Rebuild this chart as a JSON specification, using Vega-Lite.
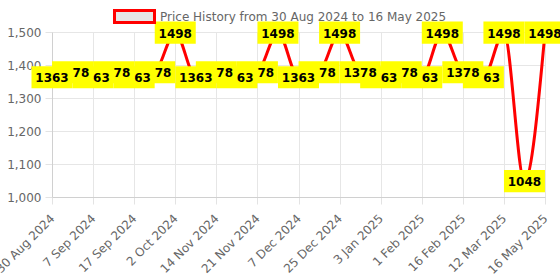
{
  "$schema": "https://vega.github.io/schema/vega-lite/v6.json",
  "width": 493,
  "height": 165,
  "autosize": {"type": "none"},
  "padding": {"left": 52, "top": 32, "right": 15, "bottom": 83},
  "config": {"view": {"stroke": null}, "font": "DejaVu Sans"},
  "data": {
    "values": [
      {"date": "30 Aug 2024", "price": 1363},
      {"date": "3 Sep 2024", "price": 1378},
      {"date": "7 Sep 2024", "price": 1363},
      {"date": "12 Sep 2024", "price": 1378},
      {"date": "17 Sep 2024", "price": 1363},
      {"date": "25 Sep 2024", "price": 1378},
      {"date": "2 Oct 2024", "price": 1498},
      {"date": "23 Oct 2024", "price": 1363},
      {"date": "14 Nov 2024", "price": 1378},
      {"date": "18 Nov 2024", "price": 1363},
      {"date": "21 Nov 2024", "price": 1378},
      {"date": "29 Nov 2024", "price": 1498},
      {"date": "7 Dec 2024", "price": 1363},
      {"date": "16 Dec 2024", "price": 1378},
      {"date": "25 Dec 2024", "price": 1498},
      {"date": "29 Dec 2024", "price": 1378},
      {"date": "3 Jan 2025", "price": 1363},
      {"date": "17 Jan 2025", "price": 1378},
      {"date": "1 Feb 2025", "price": 1363},
      {"date": "9 Feb 2025", "price": 1498},
      {"date": "16 Feb 2025", "price": 1378},
      {"date": "28 Feb 2025", "price": 1363},
      {"date": "12 Mar 2025", "price": 1498},
      {"date": "14 Apr 2025", "price": 1048},
      {"date": "16 May 2025", "price": 1498}
    ]
  },
  "encoding": {
    "x": {
      "field": "date",
      "type": "ordinal",
      "sort": null,
      "scale": {"padding": 0},
      "axis": {
        "title": null,
        "values": ["30 Aug 2024", "7 Sep 2024", "17 Sep 2024", "2 Oct 2024", "14 Nov 2024", "21 Nov 2024", "7 Dec 2024", "25 Dec 2024", "3 Jan 2025", "1 Feb 2025", "16 Feb 2025", "12 Mar 2025", "16 May 2025"],
        "labelAngle": -45,
        "labelAlign": "right",
        "labelBaseline": "middle",
        "labelFontSize": 12,
        "labelColor": "#666666",
        "labelPadding": 12,
        "tickSize": 7,
        "tickColor": "#e3e3e3",
        "grid": true,
        "gridColor": "#e6e6e6",
        "domainColor": "#d0d0d0"
      }
    },
    "y": {
      "field": "price",
      "type": "quantitative",
      "scale": {"domain": [1000, 1500], "nice": false, "zero": false},
      "axis": {
        "title": null,
        "values": [1000, 1100, 1200, 1300, 1400, 1500],
        "format": ",d",
        "labelFontSize": 12,
        "labelColor": "#666666",
        "labelPadding": 4,
        "tickSize": 7,
        "tickColor": "#e3e3e3",
        "gridColor": "#e6e6e6",
        "domainColor": "#d0d0d0"
      }
    }
  },
  "layer": [
    {
      "mark": {"type": "line", "interpolate": "monotone", "strokeWidth": 3},
      "encoding": {
        "color": {
          "datum": "Price History from 30 Aug 2024 to 16 May 2025",
          "scale": {"range": ["#ff0000"]},
          "legend": {
            "title": null,
            "orient": "none",
            "legendX": 61,
            "legendY": -37,
            "padding": 0,
            "symbolType": "M-1,-0.3H1V0.3H-1Z",
            "symbolSize": 1600,
            "symbolFillColor": "#e6e6e6",
            "symbolStrokeColor": "#ff0000",
            "symbolStrokeWidth": 3,
            "labelFontSize": 12,
            "labelColor": "#666666",
            "labelOffset": 4,
            "labelLimit": 400,
            "encode": {
              "symbols": {
                "update": {
                  "fill": {"value": "#e6e6e6"},
                  "stroke": {"value": "#ff0000"},
                  "strokeWidth": {"value": 3},
                  "shape": {"value": "M-1,-0.3H1V0.3H-1Z"},
                  "size": {"value": 1600},
                  "opacity": {"value": 1}
                }
              }
            }
          }
        }
      }
    },
    {
      "mark": {"type": "point", "shape": "M-1,-0.54H1V0.54H-1Z", "size": 1681, "filled": true, "color": "#ffff00", "opacity": 1, "strokeWidth": 0}
    },
    {
      "transform": [
        {"window": [{"op": "lag", "field": "price", "as": "prev"}]},
        {"calculate": "isValid(datum.prev) && abs(datum.price - datum.prev) < 60 ? slice(format(datum.price, 'd'), 2) : format(datum.price, 'd')", "as": "label"}
      ],
      "mark": {"type": "text", "align": "right", "baseline": "middle", "dx": 16.7, "dy": 1, "fontWeight": "bold", "fontSize": 12, "color": "#000000"},
      "encoding": {"text": {"field": "label"}}
    }
  ]
}
